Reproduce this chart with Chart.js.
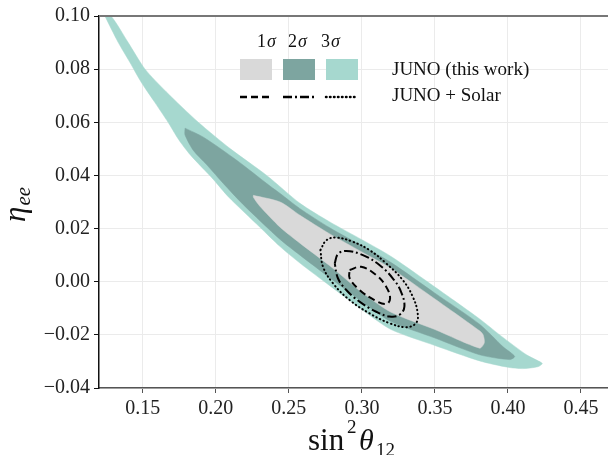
<!DOCTYPE html>
<html>
<head>
<meta charset="utf-8">
<script src="https://cdn.jsdelivr.net/npm/chart.js@4/dist/chart.umd.min.js"></script>
<style>
  html, body { margin: 0; padding: 0; background: #fff; }
  #wrap { width: 608px; height: 455px; position: relative; }
</style>
</head>
<body>
<div id="wrap"><canvas id="chart"></canvas></div>
<script>
const SERIF = "'Liberation Serif', 'Times New Roman', serif";

// axis ticks
const xTicks = [0.15, 0.20, 0.25, 0.30, 0.35, 0.40, 0.45];
const yTicks = [-0.04, -0.02, 0.00, 0.02, 0.04, 0.06, 0.08, 0.10];

// legend texts
const sigmaLabels = ['1', '2', '3'];
const legendNames = ['JUNO (this work)', 'JUNO + Solar'];

// JUNO (this work) allowed regions, [sin^2 theta12, eta_ee]
const sigma3Region = [
    [0.1240, 0.1000], [0.1282, 0.1000], [0.1400, 0.0900], [0.1514, 0.0801], [0.1660, 0.0715],
    [0.1880, 0.0600], [0.2100, 0.0500], [0.2348, 0.0400], [0.2576, 0.0295], [0.2780, 0.0225],
    [0.3000, 0.0158], [0.3200, 0.0095], [0.3500, -0.0020], [0.3806, -0.0140], [0.3950, -0.0203],
    [0.4127, -0.0275], [0.4200, -0.0296], [0.4235, -0.0308], [0.4205, -0.0320], [0.4100, -0.0327],
    [0.4000, -0.0322], [0.3806, -0.0298], [0.3500, -0.0240], [0.3200, -0.0180], [0.3000, -0.0105],
    [0.2780, -0.0015], [0.2576, 0.0070], [0.2438, 0.0133], [0.2302, 0.0205], [0.2085, 0.0320],
    [0.1983, 0.0385], [0.1824, 0.0478], [0.1745, 0.0535], [0.1673, 0.0600], [0.1582, 0.0675],
    [0.1490, 0.0750], [0.1411, 0.0826], [0.1331, 0.0901], [0.1240, 0.1000]
];
const sigma2Region = [
    [0.1789, 0.0578], [0.1915, 0.0544], [0.2143, 0.0457], [0.2371, 0.0360], [0.2438, 0.0333],
    [0.2576, 0.0275], [0.2780, 0.0203], [0.3000, 0.0135], [0.3200, 0.0072], [0.3500, -0.0043],
    [0.3806, -0.0160], [0.3967, -0.0245], [0.4046, -0.0281], [0.4012, -0.0293], [0.3806, -0.0275],
    [0.3500, -0.0212], [0.3200, -0.0150], [0.3000, -0.0075], [0.2780, 0.0015], [0.2576, 0.0100],
    [0.2438, 0.0160], [0.2188, 0.0290], [0.2051, 0.0370], [0.1938, 0.0440], [0.1846, 0.0494],
    [0.1789, 0.0552], [0.1789, 0.0578]
];
const sigma1Region = [
    [0.2257, 0.0325], [0.2440, 0.0300], [0.2576, 0.0250], [0.2780, 0.0180], [0.3000, 0.0112],
    [0.3200, 0.0050], [0.3500, -0.0065], [0.3806, -0.0185], [0.3830, -0.0200], [0.3838, -0.0230],
    [0.3806, -0.0250], [0.3500, -0.0180], [0.3200, -0.0115], [0.3000, -0.0040], [0.2780, 0.0060],
    [0.2576, 0.0145], [0.2440, 0.0205], [0.2300, 0.0285], [0.2257, 0.0318], [0.2257, 0.0325]
];

// JUNO + Solar contours
const solar1 = [
    [0.2916, 0.0044], [0.2995, 0.0056], [0.3098, 0.0025], [0.3166, -0.0019], [0.3193, -0.0063],
    [0.3166, -0.0084], [0.3086, -0.0069], [0.2984, -0.0031], [0.2916, 0.0013], [0.2916, 0.0044]
];
const solar2 = [
    [0.2814, 0.0069], [0.2836, 0.0104], [0.2893, 0.0116], [0.3007, 0.0100], [0.3120, 0.0063],
    [0.3211, 0.0013], [0.3268, -0.0038], [0.3291, -0.0094], [0.3257, -0.0125], [0.3189, -0.0131],
    [0.3098, -0.0113], [0.2984, -0.0075], [0.2893, -0.0031], [0.2836, 0.0013], [0.2814, 0.0069]
];
const solar3 = [
    [0.2716, 0.0119], [0.2757, 0.0156], [0.2825, 0.0166], [0.2939, 0.0150], [0.3052, 0.0119],
    [0.3166, 0.0069], [0.3280, 0.0006], [0.3348, -0.0056], [0.3382, -0.0119], [0.3370, -0.0156],
    [0.3302, -0.0171], [0.3189, -0.0156], [0.3052, -0.0119], [0.2916, -0.0069], [0.2802, -0.0006],
    [0.2734, 0.0056], [0.2716, 0.0119]
];

const fillColors = ['#d9d9d9', '#7da5a0', '#a6d8cf'];
const dashStyles = [[7, 4], [9, 3, 2, 3], [0.5, 3.5]];

const toPoints = arr => arr.map(p => ({ x: p[0], y: p[1] }));

function region(arr, color, order) {
    return {
        data: toPoints(arr),
        backgroundColor: color,
        borderColor: color,
        borderWidth: 0.5,
        fill: 'shape',
        pointRadius: 0,
        tension: 0.25,
        order: order,
    };
}

function contour(arr, dash, order) {
    return {
        data: toPoints(arr),
        borderColor: '#000',
        borderWidth: 2,
        borderDash: dash,
        borderCapStyle: dash === dashStyles[2] ? 'round' : 'butt',
        fill: false,
        pointRadius: 0,
        tension: 0.4,
        order: order,
    };
}

const fmt = v => (v < 0 ? '\u2212' : '') + Math.abs(v).toFixed(2);

// top spine, axis titles and the hand-made legend
const decor = {
    id: 'decor',
    afterDraw(chart) {
        const ctx = chart.ctx;
        const a = chart.chartArea;
        ctx.save();
        ctx.strokeStyle = '#777';
        ctx.lineWidth = 2;
        ctx.beginPath();
        ctx.moveTo(a.left, a.top);
        ctx.lineTo(a.right, a.top);
        ctx.stroke();

        ctx.fillStyle = '#111';
        ctx.textBaseline = 'alphabetic';
        ctx.textAlign = 'left';

        // x title: sin^2 theta_12
        ctx.font = `31px ${SERIF}`;
        ctx.fillText('sin', 308, 450);
        ctx.font = `19px ${SERIF}`;
        ctx.fillText('2', 347, 433);
        ctx.font = `italic 30px ${SERIF}`;
        ctx.fillText('\u03b8', 359, 450);
        ctx.font = `19px ${SERIF}`;
        ctx.fillText('12', 376, 456);

        // y title: eta_ee
        ctx.save();
        ctx.translate(25, 222);
        ctx.rotate(-Math.PI / 2);
        ctx.font = `italic 31px ${SERIF}`;
        ctx.fillText('\u03b7', 0, 0);
        const w = ctx.measureText('\u03b7').width;
        ctx.font = `italic 21px ${SERIF}`;
        ctx.fillText('ee', w + 1, 5);
        ctx.restore();

        // legend: sigma labels, swatches, line samples
        const cols = [240, 283, 326];
        const labelX = [257, 288, 321];
        sigmaLabels.forEach((s, i) => {
            ctx.fillStyle = '#111';
            ctx.font = `18px ${SERIF}`;
            ctx.fillText(s, labelX[i], 47);
            const sw = ctx.measureText(s).width;
            ctx.font = `italic 18px ${SERIF}`;
            ctx.fillText('\u03c3', labelX[i] + sw + 1, 47);

            ctx.fillStyle = fillColors[i];
            ctx.fillRect(cols[i], 59, 32, 21);

            ctx.strokeStyle = '#000';
            ctx.lineWidth = 2.5;
            ctx.setLineDash(dashStyles[i]);
            ctx.lineCap = i === 2 ? 'round' : 'butt';
            ctx.beginPath();
            ctx.moveTo(cols[i], 97);
            ctx.lineTo(cols[i] + 31, 97);
            ctx.stroke();
        });
        ctx.setLineDash([]);

        ctx.fillStyle = '#111';
        ctx.font = `19px ${SERIF}`;
        ctx.fillText(legendNames[0], 392, 75);
        ctx.fillText(legendNames[1], 392, 101);
        ctx.restore();
    }
};

const ctx = document.getElementById('chart').getContext('2d');
new Chart(ctx, {
    type: 'line',
    data: {
        datasets: [
            contour(solar1, dashStyles[0], 1),
            contour(solar2, dashStyles[1], 2),
            contour(solar3, dashStyles[2], 3),
            region(sigma1Region, fillColors[0], 4),
            region(sigma2Region, fillColors[1], 5),
            region(sigma3Region, fillColors[2], 6),
        ],
    },
    options: {
        responsive: true,
        maintainAspectRatio: false,
        animation: false,
        layout: { padding: { top: 16, left: 0, right: 0, bottom: 0 } },
        plugins: {
            legend: { display: false },
            tooltip: { enabled: false },
        },
        scales: {
            x: {
                type: 'linear',
                min: 0.12,
                max: 0.4685,
                afterBuildTicks: s => { s.ticks = xTicks.map(v => ({ value: v })); },
                afterFit: s => { s.height = 67; },
                grid: { color: '#ebebeb', lineWidth: 1, tickLength: 5, tickColor: '#555' },
                border: { color: '#555', width: 1.5 },
                ticks: {
                    font: { family: SERIF, size: 20 },
                    color: '#222',
                    padding: 4,
                    maxRotation: 0,
                    autoSkip: false,
                    callback: v => v.toFixed(2),
                },
            },
            y: {
                type: 'linear',
                min: -0.04,
                max: 0.10,
                afterBuildTicks: s => { s.ticks = yTicks.map(v => ({ value: v })); },
                afterFit: s => { s.width = 99; },
                grid: { color: '#ebebeb', lineWidth: 1, tickLength: 5, tickColor: '#111' },
                border: { color: '#111', width: 1.5 },
                ticks: {
                    font: { family: SERIF, size: 20 },
                    color: '#222',
                    padding: 4,
                    autoSkip: false,
                    callback: v => fmt(v),
                },
            },
        },
    },
    plugins: [decor],
});
</script>
</body>
</html>
